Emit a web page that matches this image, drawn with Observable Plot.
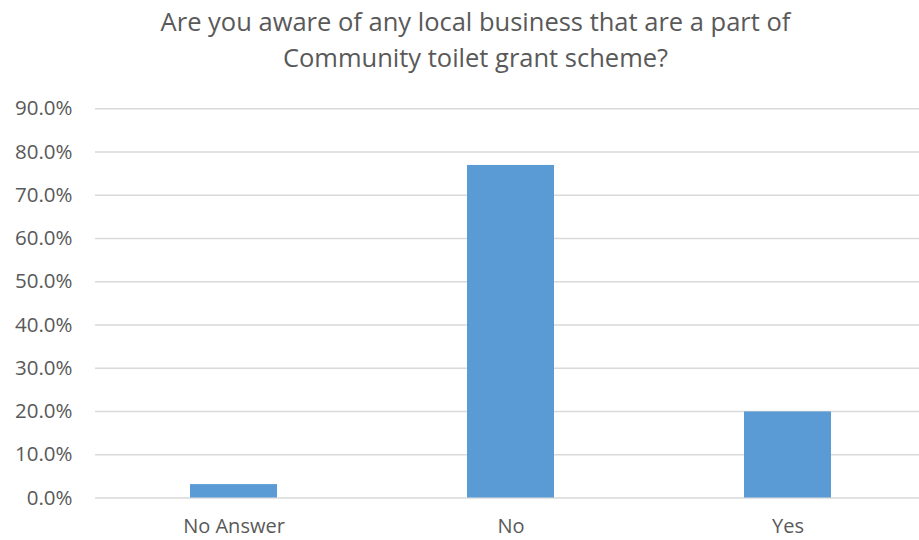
<!DOCTYPE html>
<html>
<head>
<meta charset="utf-8">
<script src="https://cdn.jsdelivr.net/npm/d3@7"></script>
<script src="https://cdn.jsdelivr.net/npm/@observablehq/plot@0.6"></script>
<style>
  html, body { margin: 0; padding: 0; background: #fff; }
  #title { width: 919px; height: 78px; box-sizing: border-box; padding-top: 3px; padding-left: 32px; text-align: center;
    font-family: "Open Sans", sans-serif; font-size: 25.5px; line-height: 36px; color: #595959; overflow: hidden; }
  #chart svg { display: block; }
</style>
</head>
<body>
<div id="title">Are you aware of any local business that are a part of<br>Community toilet grant scheme?</div>
<div id="chart"></div>
<script>
const categories = ["No Answer", "No", "Yes"];
const values = [0.031, 0.769, 0.199];
const yTicks = [0, 0.1, 0.2, 0.3, 0.4, 0.5, 0.6, 0.7, 0.8, 0.9];

const data = categories.map((c, i) => ({category: c, value: values[i]}));
const titleH = 78;

const chart = Plot.plot({
  width: 919,
  height: 462,
  marginLeft: 95,
  marginRight: 0,
  marginTop: 108.3 - titleH,
  marginBottom: 540 - 497.5,
  style: {fontFamily: "Open Sans, sans-serif", fontSize: "20px", color: "#595959", background: "#fff"},
  x: {domain: categories, range: [95, 926], paddingInner: 0.686, paddingOuter: 0.343, label: null},
  y: {domain: [0, 0.9], label: null},
  marks: [
    Plot.gridY(yTicks, {stroke: "#d9d9d9", strokeOpacity: 1, strokeWidth: 1.4}),
    Plot.barY(data, {x: "category", y: "value", fill: "#5B9BD5"}),
    Plot.axisY(yTicks, {tickSize: 0, tickPadding: 23, tickFormat: d => (d * 100).toFixed(1) + "%", fill: "#595959", fontSize: 20.5}),
    Plot.axisX({tickSize: 0, tickPadding: 21, fill: "#595959", fontSize: 20})
  ]
});
document.getElementById("chart").appendChild(chart);
</script>
</body>
</html>
